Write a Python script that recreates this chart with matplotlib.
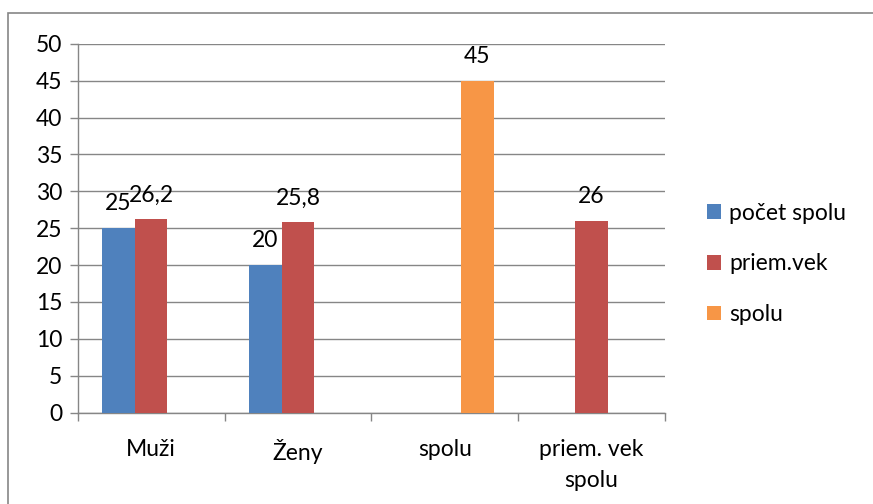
import numpy as np
import matplotlib.pyplot as plt
from matplotlib.patches import Rectangle, Patch

# categories and series (NaN = no bar in that category)
categories = ['Muži', 'Ženy', 'spolu', 'priem. vek\nspolu']
series_names = ['počet spolu', 'priem.vek', 'spolu']
pocet_spolu = [25, 20, np.nan, np.nan]
priem_vek = [26.2, 25.8, np.nan, 26]
spolu = [np.nan, np.nan, 45, np.nan]
colors = ['#4F81BD', '#C0504D', '#F79646']

plt.rcParams['font.family'] = ['Lato', 'DejaVu Sans']
grid_col = '#868686'
fs = 16.5

W, H = 873, 504
fig = plt.figure(figsize=(W / 100, H / 100), dpi=100)

# outer chart border (only left and top visible in the reference)
fig.patches.append(Rectangle((8 / W, -0.1), 2.0, 1 - 12.7 / H + 0.1,
                             transform=fig.transFigure, fill=False,
                             edgecolor=grid_col, linewidth=1.2))

left, right = 77.7 / W, 665 / W
bottom, top = 1 - 412.7 / H, 1 - 43.7 / H
ax = fig.add_axes([left, bottom, right - left, top - bottom])

x = np.arange(len(categories))
w = 0.222
all_series = [pocet_spolu, priem_vek, spolu]
for i, (vals, name, col) in enumerate(zip(all_series, series_names, colors)):
    pos = x + (i - 1) * w
    ax.bar(pos, vals, width=w, color=col, label=name, zorder=3)
    for px, v in zip(pos, vals):
        if np.isnan(v):
            continue
        txt = f'{v:g}'.replace('.', ',')
        ax.annotate(txt, (px, v), xytext=(0, 10), textcoords='offset points',
                    ha='center', va='bottom', fontsize=fs, color='black')

ax.set_xlim(-0.5, len(categories) - 0.5)
ax.set_ylim(0, 50)
ax.set_yticks(np.arange(0, 51, 5))
ax.yaxis.grid(True, color=grid_col, linewidth=1, zorder=0)
ax.set_axisbelow(True)

ax.set_xticks(x)
ax.set_xticklabels(categories, fontsize=fs, linespacing=1.6)
ax.set_xticks(np.arange(-0.5, len(categories), 1), minor=True)
ax.tick_params(axis='x', which='major', length=0, pad=19)
ax.tick_params(axis='x', which='minor', length=6, color=grid_col, width=1)
ax.tick_params(axis='y', length=6, color=grid_col, width=1, labelsize=fs, pad=5)

for s in ['top', 'right']:
    ax.spines[s].set_visible(False)
for s in ['left', 'bottom']:
    ax.spines[s].set_color(grid_col)
    ax.spines[s].set_linewidth(1)

handles = [Patch(facecolor=c, label=n) for c, n in zip(colors, series_names)]
fig.legend(handles=handles, loc='center left', bbox_to_anchor=(698 / W, 1 - 264 / H),
           frameon=False, fontsize=fs, handlelength=0.6, handleheight=0.6,
           handletextpad=0.35, labelspacing=1.3, borderaxespad=0)

fig.savefig('out.png', dpi=100)
